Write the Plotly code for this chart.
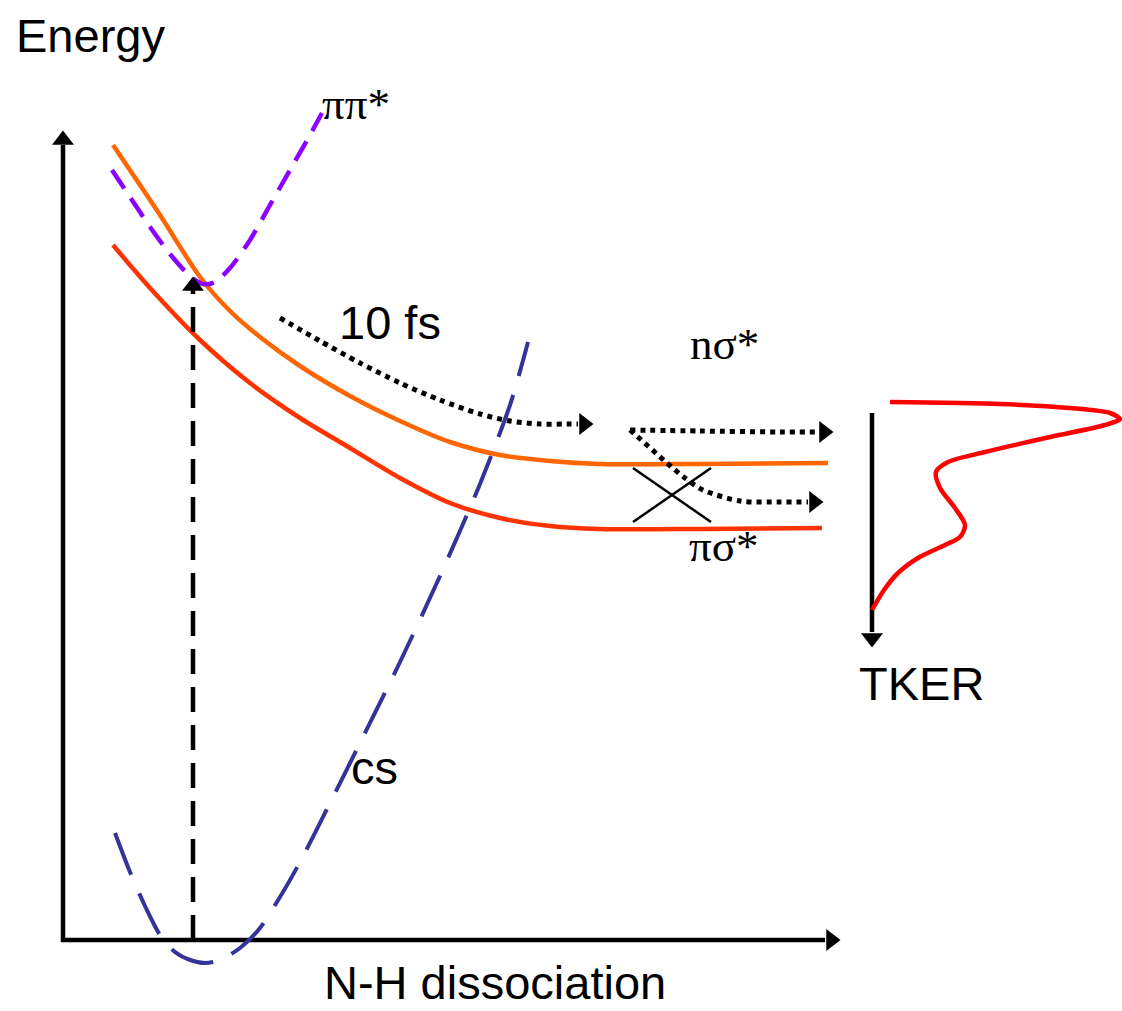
import plotly.graph_objects as go

# ---- schematic data (figure-pixel coordinate space) ----
ns_x = [113, 160, 200, 230, 260, 300, 350, 400, 450, 500, 550, 600, 700, 828]
ns_y = [145, 215, 277, 311, 337, 366, 396, 421, 442, 455, 461, 464, 464, 463]

ps_x = [113, 150, 200, 250, 300, 350, 400, 450, 500, 550, 600, 700, 822]
ps_y = [245, 288, 340, 383, 418, 448, 478, 503, 518, 526, 529, 529, 528]

pp_x = [112, 130, 150, 170, 190, 203, 215, 230, 250, 270, 290, 310, 322]
pp_y = [170, 197, 227, 254, 276, 284, 282, 268, 240, 205, 170, 135, 113]

cs_x = [115, 130, 145, 160, 175, 190, 205, 220, 240, 260, 280, 300, 330, 360, 400, 440, 480, 510, 528]
cs_y = [833, 872, 906, 935, 952, 960, 963, 960, 948, 928, 897, 862, 803, 743, 662, 576, 484, 405, 342]

tk_x = [890, 1000, 1070, 1110, 1120, 1105, 1050, 985, 948, 936, 940, 955, 965, 960, 945, 918, 898, 884, 872]
tk_y = [402, 404, 408, 413, 419, 425, 437, 452, 462, 472, 488, 508, 525, 537, 545, 558, 573, 590, 610]

dot1_x = [280, 320, 360, 400, 440, 480, 510, 540, 570, 578]
dot1_y = [318, 341, 363, 383, 400, 414, 421, 424, 424, 424]
dot2_x = [630, 700, 780, 818]
dot2_y = [430, 431, 432, 432]
dot3_x = [630, 648, 667, 685, 703, 740, 780, 808]
dot3_y = [430, 446, 463, 478, 490, 501, 502, 502]

cross_a_x = [633, 711]; cross_a_y = [468, 522]
cross_b_x = [633, 711]; cross_b_y = [522, 468]

yaxis_x = [63, 63]; yaxis_y = [942, 145]
xaxis_x = [61, 825]; xaxis_y = [940, 940]
exc_x = [193, 193]; exc_y = [940, 290]
tker_x = [872, 872]; tker_y = [413, 632]

labels = ["Energy", "ππ*", "10 fs", "nσ*", "πσ*", "TKER", "cs", "N-H dissociation"]
label_x = [90, 356, 390, 724, 723, 921, 374, 495]
label_y = [35, 104, 322, 344, 546, 683, 767, 1010]
label_va = ["middle", "middle", "middle", "middle", "middle", "middle", "middle", "bottom"]

fig = go.Figure()

def line(x, y, color, width, dash="solid"):
    fig.add_trace(go.Scatter(x=x, y=y, mode="lines",
                             line=dict(color=color, width=width, dash=dash, shape="spline", smoothing=0.8),
                             hoverinfo="skip", showlegend=False))

def head(x, y, symbol, size=19):
    fig.add_trace(go.Scatter(x=[x], y=[y], mode="markers",
                             marker=dict(symbol=symbol, size=size, color="black", line=dict(width=0)),
                             hoverinfo="skip", showlegend=False))

# axes
line(yaxis_x, yaxis_y, "black", 4.5)
line(xaxis_x, xaxis_y, "black", 4.5)
head(63, 140, "triangle-up")
head(831, 940, "triangle-right")

# potential curves
line(cs_x, cs_y, "#333399", 4, "45px,20px")
line(ns_x, ns_y, "#FF6600", 4.5)
line(ps_x, ps_y, "#FF3300", 4.5)
line(pp_x, pp_y, "#8B00FF", 4.5, "22px,12px")

# excitation arrow
line(exc_x, exc_y, "black", 4.5, "25px,13px")
head(193, 286, "triangle-up")

# dotted trajectories
line(dot1_x, dot1_y, "black", 5, "dot")
head(584, 424, "triangle-right")
line(dot2_x, dot2_y, "black", 5, "dot")
head(824, 432, "triangle-right")
line(dot3_x, dot3_y, "black", 5, "dot")
head(814, 502, "triangle-right")

# crossing
line(cross_a_x, cross_a_y, "black", 2.5)
line(cross_b_x, cross_b_y, "black", 2.5)

# TKER axis and spectrum
line(tker_x, tker_y, "black", 4.5)
head(872, 638, "triangle-down")
line(tk_x, tk_y, "#FF0000", 4.5)

greek = {"ππ*", "nσ*", "πσ*"}
for t, x, y, va in zip(labels, label_x, label_y, label_va):
    g = t in greek
    fig.add_annotation(x=x, y=y, text=t, showarrow=False, xanchor="center", yanchor=va,
                       borderpad=0,
                       font=dict(family="Liberation Serif" if g else "Liberation Sans",
                                 size=45 if g else 47, color="black"))

fig.update_layout(width=1122, height=1011, margin=dict(l=0, r=0, t=0, b=0),
                  paper_bgcolor="white", plot_bgcolor="white",
                  xaxis=dict(range=[0, 1122], visible=False, fixedrange=True),
                  yaxis=dict(range=[1011, 0], visible=False, fixedrange=True))
fig.write_html("out.html")
